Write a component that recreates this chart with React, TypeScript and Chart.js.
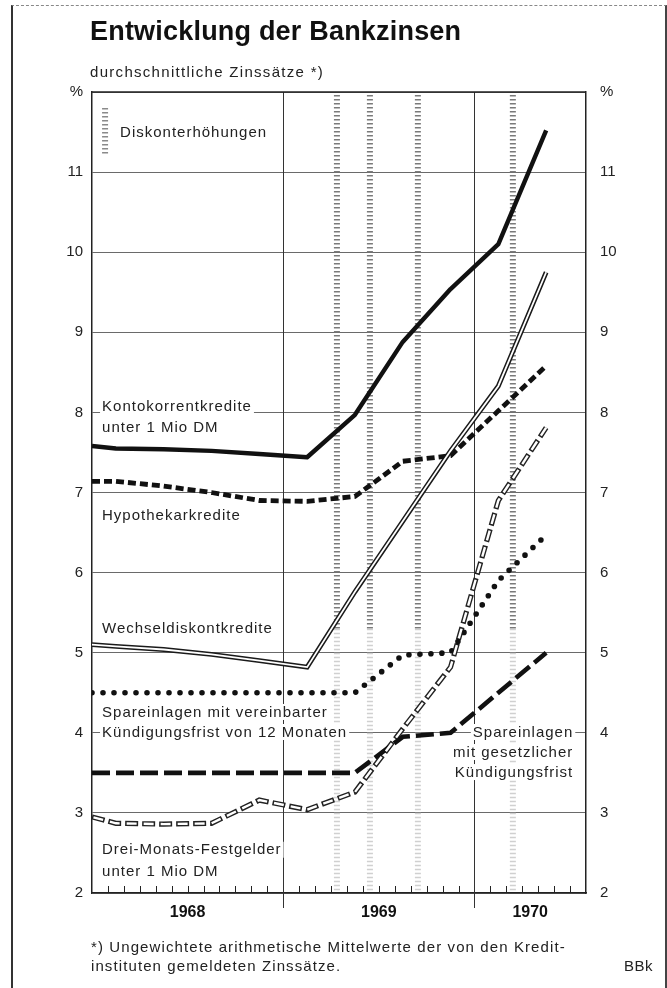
import React, { useEffect, useRef } from 'react';
import { Chart, registerables } from 'chart.js';

Chart.register(...registerables);

// ---- data (x = months since 1 Jan 1968) ----
const surveyMonths = [0, 1.5, 4.5, 7.5, 10.5, 13.5, 16.5, 19.5, 22.5, 25.5, 28.5];
const kontokorrent = [7.58, 7.55, 7.54, 7.52, 7.48, 7.44, 7.97, 8.88, 9.54, 10.1, 11.52];
const hypothek = [7.14, 7.14, 7.08, 7.0, 6.9, 6.89, 6.95, 7.39, 7.46, 8.02, 8.58];
const wechsel = [5.1, 5.08, 5.04, 4.98, 4.9, 4.82, 5.76, 6.64, 7.52, 8.33, 9.75];
const spar12 = [4.5, 4.5, 4.5, 4.5, 4.5, 4.5, 4.5, 4.97, 5.0, 5.9, 6.47];
const sparGesetzlich = [3.5, 3.5, 3.5, 3.5, 3.5, 3.5, 3.5, 3.95, 4.0, 4.5, 5.0];
const festgeld = [2.95, 2.87, 2.86, 2.87, 3.16, 3.04, 3.26, 4.05, 4.82, 6.9, 7.81];

const discountRaises = [15.37, 17.44, 20.45, 26.41];
const yearBoundaries = [12, 24];
const yearLabelPos = [6, 18, 27.5];
const yearLabels = ['1968', '1969', '1970'];
const yMin = 2;
const yMax = 12;
const xMax = 31;

const FONT = '"Liberation Sans", Arial, sans-serif';

type Label = { lines: string[]; x: number; ys: number[]; align: 'left' | 'right' };
const seriesLabels: Label[] = [
  { lines: ['Diskonterhöhungen'], x: 1.76, ys: [11.49], align: 'left' },
  { lines: ['Kontokorrentkredite', 'unter 1 Mio DM'], x: 0.63, ys: [8.07, 7.81], align: 'left' },
  { lines: ['Hypothekarkredite'], x: 0.63, ys: [6.72], align: 'left' },
  { lines: ['Wechseldiskontkredite'], x: 0.63, ys: [5.3], align: 'left' },
  { lines: ['Spareinlagen mit vereinbarter', 'Kündigungsfrist von 12 Monaten'], x: 0.63, ys: [4.26, 4.01], align: 'left' },
  { lines: ['Spareinlagen', 'mit gesetzlicher', 'Kündigungsfrist'], x: 30.2, ys: [4.01, 3.76, 3.51], align: 'right' },
  { lines: ['Drei-Monats-Festgelder', 'unter 1 Mio DM'], x: 0.63, ys: [2.54, 2.27], align: 'left' },
];

const toXY = (vals: number[]) => vals.map((v, i) => ({ x: surveyMonths[i], y: v }));

function hatch(ctx: CanvasRenderingContext2D, px: number, y0: number, y1: number, color: string) {
  ctx.save();
  ctx.strokeStyle = color;
  ctx.lineWidth = 6;
  ctx.setLineDash([1.5, 2.5]);
  ctx.beginPath();
  ctx.moveTo(px, y0);
  ctx.lineTo(px, y1);
  ctx.stroke();
  ctx.restore();
}

const decorPlugin = {
  id: 'decor',
  beforeDatasetsDraw(chart: any) {
    const { ctx, chartArea: a, scales } = chart;
    const x = scales.x;
    const y = scales.y;
    ctx.save();
    // discount rate increases
    discountRaises.forEach((m) => {
      const px = x.getPixelForValue(m);
      hatch(ctx, px, a.top + 3, y.getPixelForValue(5.3), '#7a7a7a');
      hatch(ctx, px, y.getPixelForValue(5.3), a.bottom - 2, '#d0d0d0');
    });
    // legend marker
    hatch(ctx, x.getPixelForValue(0.82), y.getPixelForValue(11.8), y.getPixelForValue(11.2), '#8a8a8a');
    // year boundaries
    ctx.strokeStyle = '#333';
    ctx.lineWidth = 1;
    yearBoundaries.forEach((m) => {
      const px = Math.round(x.getPixelForValue(m)) + 0.5;
      ctx.beginPath();
      ctx.moveTo(px, a.top);
      ctx.lineTo(px, a.bottom + 15);
      ctx.stroke();
    });
    // labels
    ctx.font = '15px ' + FONT;
    (ctx as any).letterSpacing = '1px';
    ctx.textBaseline = 'middle';
    seriesLabels.forEach((lab) => {
      const px = x.getPixelForValue(lab.x);
      lab.lines.forEach((t, i) => {
        const py = y.getPixelForValue(lab.ys[i]);
        const w = ctx.measureText(t).width;
        const left = lab.align === 'left' ? px : px - w;
        ctx.fillStyle = '#fff';
        ctx.fillRect(left - 2, py - 8, w + 4, 16);
        ctx.fillStyle = '#222';
        ctx.textAlign = 'left';
        ctx.fillText(t, left, py + 0.5);
      });
    });
    (ctx as any).letterSpacing = '0px';
    ctx.restore();
  },
  afterDatasetsDraw(chart: any) {
    const { ctx, chartArea: a, scales } = chart;
    const x = scales.x;
    ctx.save();
    ctx.strokeStyle = '#222';
    ctx.lineWidth = 1.5;
    ctx.beginPath();
    ctx.moveTo(a.left, a.top);
    ctx.lineTo(a.right, a.top);
    ctx.stroke();
    ctx.lineWidth = 1;
    for (let m = 1; m < xMax; m++) {
      if (m % 12 === 0) continue;
      const px = Math.round(x.getPixelForValue(m)) + 0.5;
      ctx.beginPath();
      ctx.moveTo(px, a.bottom);
      ctx.lineTo(px, a.bottom - 7);
      ctx.stroke();
    }
    ctx.restore();
  },
};

export default function App() {
  const ref = useRef<HTMLCanvasElement | null>(null);

  useEffect(() => {
    if (!ref.current) return;
    const tickFont = { family: FONT, size: 15 };
    const chart = new Chart(ref.current, {
      type: 'line',
      data: {
        datasets: [
          { label: 'Wechsel inner', data: toXY(wechsel), borderColor: '#fff', borderWidth: 1.8, order: 1 },
          { label: 'Festgeld inner', data: toXY(festgeld), borderColor: '#fff', borderWidth: 2.4, borderDash: [10, 7], borderDashOffset: -1.5, order: 1 },
          { label: 'Kontokorrentkredite', data: toXY(kontokorrent), borderColor: '#111', borderWidth: 4.4, borderJoinStyle: 'round', order: 2 },
          { label: 'Hypothekarkredite', data: toXY(hypothek), borderColor: '#111', borderWidth: 4.8, borderDash: [8, 4], order: 2 },
          { label: 'Wechseldiskontkredite', data: toXY(wechsel), borderColor: '#1a1a1a', borderWidth: 4.8, order: 2 },
          { label: 'Spareinlagen 12 Monate', data: toXY(spar12), borderColor: '#111', borderWidth: 5.6, borderDash: [0, 11], borderCapStyle: 'round', order: 2 },
          { label: 'Spareinlagen gesetzlich', data: toXY(sparGesetzlich), borderColor: '#111', borderWidth: 4.6, borderDash: [18, 6], order: 2 },
          { label: 'Drei-Monats-Festgelder', data: toXY(festgeld), borderColor: '#222', borderWidth: 5.2, borderDash: [13, 4], order: 2 },
        ].map((d: any) => ({ ...d, pointRadius: 0, tension: 0, fill: false, clip: 0 })),
      },
      options: {
        responsive: false,
        animation: false,
        events: [],
        layout: { padding: { left: 52, right: 41, top: 92, bottom: 45 } },
        plugins: { legend: { display: false }, tooltip: { enabled: false }, title: { display: false } },
        scales: {
          x: {
            type: 'linear',
            min: 0,
            max: xMax,
            afterBuildTicks: (s: any) => {
              s.ticks = yearLabelPos.map((v) => ({ value: v }));
            },
            afterFit: (s: any) => {
              s.height = 50;
            },
            grid: { display: false, drawTicks: false },
            border: { display: true, color: '#222', width: 1.5 },
            ticks: {
              autoSkip: false,
              maxRotation: 0,
              padding: 10,
              color: '#111',
              font: { family: FONT, size: 16, weight: 'bold' },
              callback: (v: any) => {
                const i = yearLabelPos.indexOf(Number(v));
                return i >= 0 ? yearLabels[i] : '';
              },
            },
          },
          y: {
            min: yMin,
            max: yMax,
            afterFit: (s: any) => {
              s.width = 40;
            },
            grid: { color: '#6a6a6a', lineWidth: 1, drawTicks: false },
            border: { color: '#222', width: 1.5 },
            ticks: {
              stepSize: 1,
              padding: 9,
              color: '#222',
              font: tickFont,
              callback: (v: any) => (Number(v) === yMax ? '%' : String(v)),
            },
          },
          y2: {
            position: 'right',
            min: yMin,
            max: yMax,
            afterFit: (s: any) => {
              s.width = 40;
            },
            grid: { display: false, drawTicks: false },
            border: { color: '#222', width: 1.5 },
            ticks: {
              stepSize: 1,
              padding: 14,
              color: '#222',
              font: tickFont,
              callback: (v: any) => (Number(v) === yMax ? '%' : String(v)),
            },
          },
        },
      } as any,
      plugins: [decorPlugin],
    });
    return () => chart.destroy();
  }, []);

  const text: React.CSSProperties = { position: 'absolute', fontFamily: FONT, color: '#222', whiteSpace: 'nowrap' };

  return (
    <div style={{ position: 'absolute', left: 0, top: 0, width: 667, height: 988, background: '#fff', overflow: 'hidden' }}>
      <div style={{ position: 'absolute', left: 11, top: 5, width: 652, height: 990, borderLeft: '2px solid #333', borderRight: '2px solid #444', borderTop: '1px dashed #888' }} />
      <canvas ref={ref} width={667} height={988} style={{ position: 'absolute', left: 0, top: 0 }} />
      <div style={{ ...text, left: 90, top: 18, fontSize: 27, fontWeight: 'bold', lineHeight: 1, color: '#111', letterSpacing: '0.2px' }}>
        Entwicklung der Bankzinsen
      </div>
      <div style={{ ...text, left: 90, top: 64, fontSize: 15, lineHeight: 1, letterSpacing: '1.3px' }}>
        durchschnittliche Zinssätze *)
      </div>
      <div style={{ ...text, left: 91, top: 937, fontSize: 15, lineHeight: '19px', letterSpacing: '1.1px' }}>
        *) Ungewichtete arithmetische Mittelwerte der von den Kredit-
        <br />
        instituten gemeldeten Zinssätze.
      </div>
      <div style={{ ...text, left: 624, top: 956, fontSize: 15, lineHeight: '19px', letterSpacing: '0.5px' }}>BBk</div>
    </div>
  );
}
